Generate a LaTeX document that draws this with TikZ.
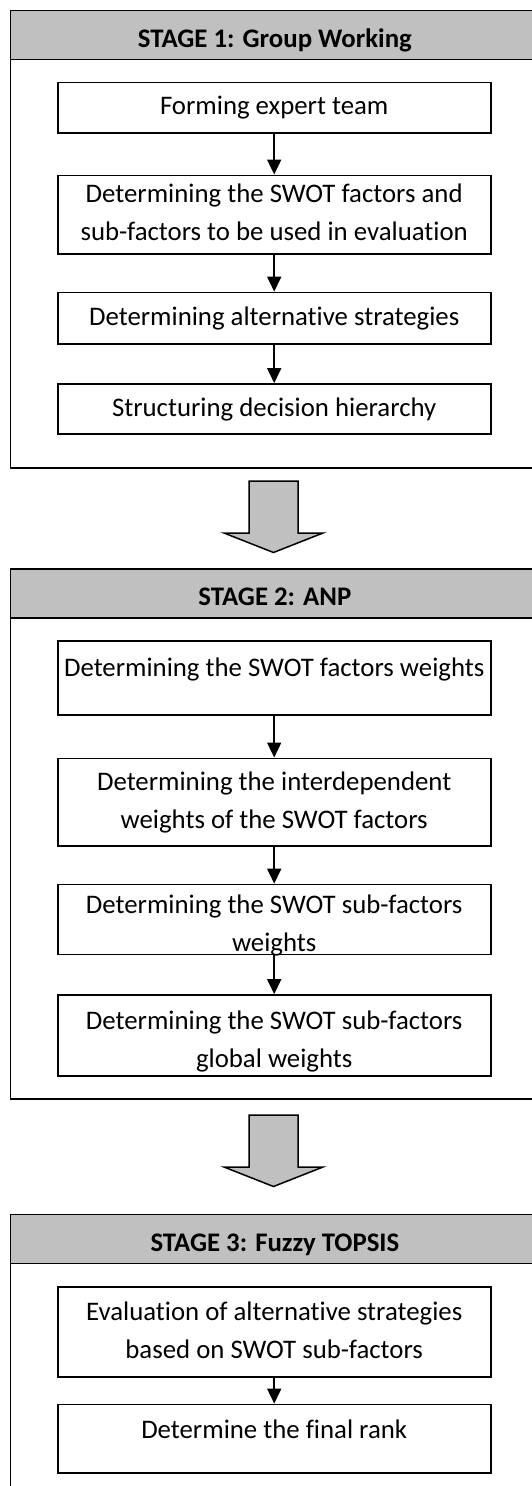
\documentclass[tikz,border=0pt]{standalone}
\usepackage{fontspec}
\setmainfont{Carlito}[Ligatures=NoCommon]
\usepackage{tikz}
\usetikzlibrary{calc, positioning, arrows.meta}
\definecolor{headgray}{RGB}{192,192,192}
\tikzset{
    stage/.style={
        rectangle,
        draw=black,
        line width=1.8pt,
        fill=white,
        minimum width=529pt,
        inner sep=0pt,
        anchor=north west
    },
    header/.style={
        rectangle,
        draw=black,
        line width=1.8pt,
        fill=headgray,
        minimum width=529pt,
        minimum height=49pt,
        inner sep=0pt,
        anchor=north west,
        font=\fontsize{26.8}{37.5}\selectfont\bfseries,
        text height=25pt,
        text depth=0pt
    },
    stepbox/.style={
        rectangle,
        draw=black,
        line width=1.8pt,
        fill=white,
        minimum width=433pt,
        inner sep=0pt,
        align=center,
        font=\fontsize{26.8}{38}\selectfont
    },
    oneline/.style={text height=17pt, text depth=3pt},
    twolines/.style={text height=55pt, text depth=3pt},
    flow/.style={draw, line width=1.8pt, -{Triangle[width=14pt, length=15pt]}},
    bigarrow/.style={draw=black, line width=1.5pt, fill=headgray, line join=miter}
}

\begin{document}
\begin{tikzpicture}[x=1pt, y=-1pt]

    \useasboundingbox[fill=white] (0,0) rectangle (532,1486);
    \clip (0,0) rectangle (532,1486);

    % --- STAGE 1 ---
    \node[stage, minimum height=457.5pt] (st1) at (9.5,9.5) {};
    \node[header] (h1) at (st1.north west) {STAGE 1: Group Working};

    \node[stepbox, oneline, minimum height=50.5pt] (b11) at (274.2,107.8) {Forming expert team};
    \node[stepbox, twolines, minimum height=78.4pt] (b12) at (274.2,214.6) {Determining the SWOT factors and\\sub-factors to be used in evaluation};
    \node[stepbox, oneline, minimum height=51.8pt] (b13) at (274.2,318.4) {Determining alternative strategies};
    \node[stepbox, oneline, minimum height=50.2pt] (b14) at (274.2,409.1) {Structuring decision hierarchy};

    \draw[flow] (b11) -- (b12);
    \draw[flow] (b12) -- (b13);
    \draw[flow] (b13) -- (b14);

    % --- STAGE 2 ---
    \node[stage, minimum height=530pt] (st2) at (9.5,568) {};
    \node[header] (h2) at (st2.north west) {STAGE 2: ANP};

    \node[stepbox, text height=17pt, text depth=21pt, minimum height=73.7pt] (b21) at (274.2,678.2) {Determining the SWOT factors weights};
    \node[stepbox, twolines, minimum height=87.2pt] (b22) at (274.2,802) {Determining the interdependent\\weights of the SWOT factors};
    \node[stepbox, text height=67pt, text depth=3pt, minimum height=67pt] (b23) at (274.2,919.5) {Determining the SWOT sub-factors\\weights};
    \node[stepbox, text height=67pt, text depth=3pt, minimum height=80.6pt] (b24) at (274.2,1035.3) {Determining the SWOT sub-factors\\global weights};

    \draw[flow] (b21) -- (b22);
    \draw[flow] (b22) -- (b23);
    \draw[flow] (b23) -- (b24);

    % --- STAGE 3 ---
    \node[stage, minimum height=300pt] (st3) at (9.5,1213.5) {};
    \node[header] (h3) at (st3.north west) {STAGE 3: Fuzzy TOPSIS};

    \node[stepbox, twolines, minimum height=89.3pt] (b31) at (274.2,1332) {Evaluation of alternative strategies\\based on SWOT sub-factors};
    \node[stepbox, text height=17pt, text depth=17pt, minimum height=68.5pt] (b32) at (274.2,1438.7) {Determine the final rank};

    \draw[flow] (b31) -- (b32);

    % Block arrows between the stages
    \coordinate (a1) at (273.5,481);
    \coordinate (a2) at (273.5,1115);
    \foreach \a in {a1,a2} {
        \draw[bigarrow] ($(\a)+(-24.5,0)$) -- ($(\a)+(24.5,0)$) -- ($(\a)+(24.5,52)$)
            -- ($(\a)+(49.5,52)$) -- ($(\a)+(0,71.5)$) -- ($(\a)+(-49.5,52)$)
            -- ($(\a)+(-24.5,52)$) -- cycle;
    }

\end{tikzpicture}
\end{document}
